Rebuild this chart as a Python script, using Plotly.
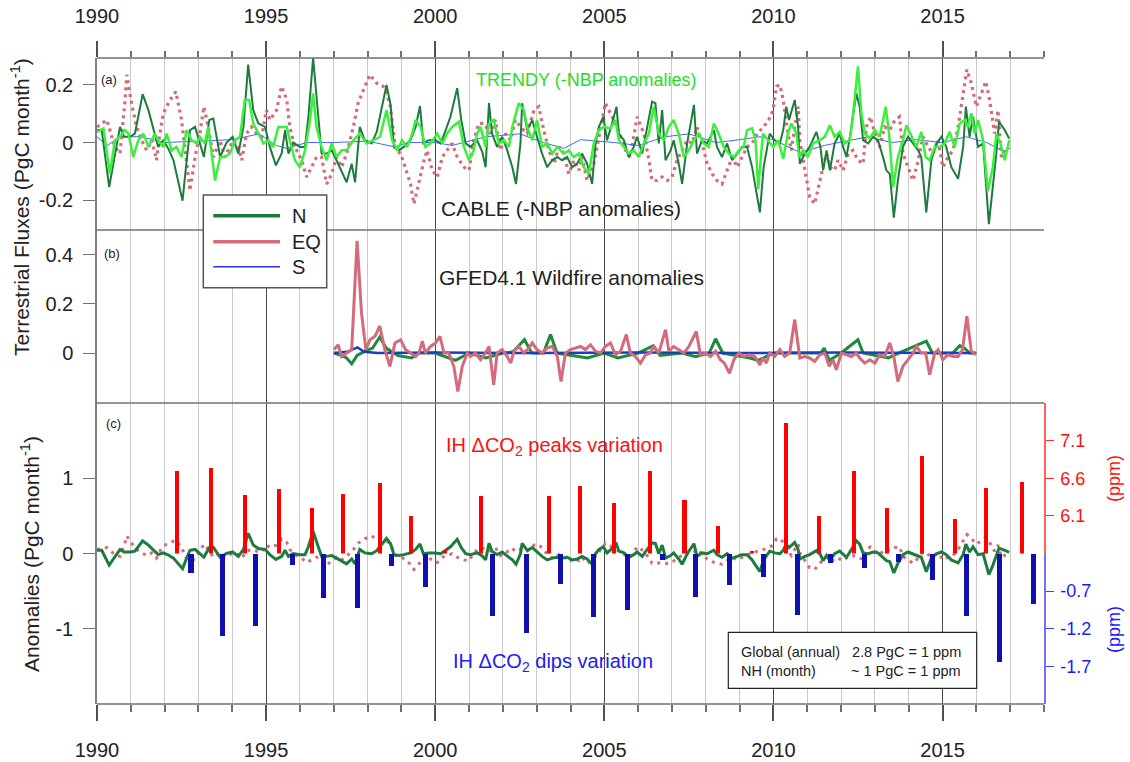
import plotly.graph_objects as go

# ---------------- DATA ----------------
# Panel (a): CABLE -NBP anomalies (PgC/month)
N_T = [1990.00,1990.14,1990.36,1990.53,1990.68,1990.80,1990.98,1991.12,1991.35,1991.52,1991.67,1991.81,1991.96,1992.11,1992.26,1992.53,1992.63,1992.75,1992.90,1993.04,1993.16,1993.32,1993.44,1993.64,1993.83,1994.01,1994.18,1994.33,1994.47,1994.62,1994.77,1994.97,1995.11,1995.29,1995.46,1995.56,1995.66,1995.80,1996.00,1996.15,1996.25,1996.39,1996.54,1996.64,1996.79,1996.94,1997.08,1997.18,1997.38,1997.53,1997.63,1997.77,1997.92,1998.12,1998.27,1998.56,1998.68,1998.78,1998.93,1999.07,1999.27,1999.42,1999.55,1999.65,1999.81,2000.01,2000.16,2000.31,2000.45,2000.65,2000.77,2000.90,2001.04,2001.24,2001.39,2001.49,2001.59,2001.68,2001.83,2001.98,2002.13,2002.28,2002.39,2002.52,2002.57,2002.72,2002.87,2003.01,2003.16,2003.31,2003.46,2003.61,2003.75,2003.90,2004.05,2004.20,2004.34,2004.49,2004.64,2004.74,2004.84,2004.97,2005.08,2005.20,2005.36,2005.43,2005.58,2005.72,2005.87,2005.97,2006.12,2006.27,2006.41,2006.51,2006.61,2006.71,2006.81,2006.96,2007.05,2007.20,2007.30,2007.45,2007.65,2007.74,2007.89,2008.04,2008.24,2008.33,2008.48,2008.63,2008.78,2008.93,2009.07,2009.22,2009.37,2009.47,2009.60,2009.71,2009.89,2010.04,2010.19,2010.29,2010.38,2010.46,2010.63,2010.73,2010.78,2010.93,2011.07,2011.27,2011.39,2011.47,2011.57,2011.67,2011.81,2011.96,2012.06,2012.16,2012.31,2012.45,2012.55,2012.65,2012.80,2012.95,2013.09,2013.24,2013.34,2013.44,2013.56,2013.68,2013.83,2013.98,2014.13,2014.28,2014.37,2014.52,2014.67,2014.82,2014.97,2015.11,2015.26,2015.46,2015.61,2015.69,2015.80,2015.90,2016.05,2016.20,2016.37,2016.49,2016.59,2016.67,2016.84,2016.97]
N_V = [0.043,0.043,-0.154,-0.050,0.054,0.020,0.020,0.031,0.167,0.112,0.043,-0.015,0.008,-0.021,-0.061,-0.201,-0.085,0.043,0.054,-0.003,-0.050,0.078,0.083,-0.050,0.000,0.020,-0.038,0.054,0.269,0.112,0.066,0.054,-0.015,-0.079,-0.038,0.043,-0.038,0.000,-0.015,-0.015,0.089,0.292,0.089,-0.038,-0.038,-0.027,-0.061,-0.085,-0.137,-0.073,-0.137,0.054,0.008,-0.003,0.037,0.199,0.130,-0.015,-0.027,-0.015,0.008,0.054,0.126,-0.003,0.008,0.008,-0.003,0.043,0.089,0.188,0.078,-0.003,-0.015,0.008,-0.032,-0.085,0.136,0.031,-0.015,0.020,-0.027,-0.085,-0.143,-0.003,0.136,0.043,0.078,0.020,-0.038,-0.085,-0.061,-0.050,-0.061,-0.050,-0.085,-0.073,-0.038,-0.073,-0.143,-0.003,0.054,0.089,0.008,0.054,0.124,0.031,0.008,-0.050,-0.015,0.020,-0.038,0.054,0.141,0.136,-0.003,0.112,-0.061,-0.027,0.008,-0.073,-0.143,-0.003,0.130,-0.038,0.008,-0.003,0.043,-0.015,-0.050,-0.003,-0.061,-0.038,-0.015,-0.015,-0.085,-0.154,-0.241,-0.085,0.031,0.008,-0.003,0.043,0.124,0.078,0.147,0.054,-0.073,-0.038,-0.015,0.037,-0.015,-0.096,-0.027,-0.096,-0.003,0.031,-0.015,-0.050,0.054,0.170,0.124,0.008,-0.003,0.020,0.008,-0.050,-0.096,-0.108,-0.259,-0.131,-0.015,0.020,-0.003,-0.027,-0.050,-0.241,-0.061,-0.003,0.020,-0.015,-0.085,-0.125,-0.015,0.124,0.020,0.089,-0.015,-0.003,-0.282,-0.154,-0.038,0.072,0.043,0.014]

EQ_T = [1990.00,1990.29,1990.53,1990.68,1990.83,1990.88,1991.02,1991.17,1991.32,1991.47,1991.62,1991.76,1991.86,1991.96,1992.16,1992.33,1992.50,1992.65,1992.75,1992.90,1993.04,1993.16,1993.29,1993.44,1993.64,1993.78,1994.03,1994.18,1994.28,1994.42,1994.57,1994.72,1994.87,1995.01,1995.11,1995.31,1995.46,1995.61,1995.70,1995.85,1996.05,1996.20,1996.34,1996.49,1996.64,1996.79,1996.94,1997.08,1997.23,1997.38,1997.58,1997.72,1997.92,1998.07,1998.27,1998.46,1998.66,1998.83,1998.98,1999.12,1999.27,1999.37,1999.52,1999.67,1999.76,1999.91,2000.06,2000.21,2000.35,2000.50,2000.65,2000.85,2001.00,2001.14,2001.29,2001.44,2001.64,2001.78,2001.93,2002.08,2002.23,2002.37,2002.52,2002.72,2002.92,2003.06,2003.21,2003.36,2003.51,2003.66,2003.80,2003.95,2004.10,2004.25,2004.34,2004.49,2004.69,2004.89,2005.03,2005.18,2005.33,2005.48,2005.63,2005.77,2005.97,2006.17,2006.32,2006.41,2006.56,2006.71,2006.86,2007.00,2007.15,2007.30,2007.45,2007.60,2007.74,2007.89,2008.04,2008.19,2008.33,2008.48,2008.63,2008.78,2008.93,2009.07,2009.22,2009.37,2009.52,2009.71,2009.86,2009.99,2010.09,2010.19,2010.29,2010.43,2010.53,2010.63,2010.73,2010.78,2010.88,2010.98,2011.07,2011.22,2011.32,2011.42,2011.57,2011.67,2011.81,2011.91,2012.06,2012.21,2012.35,2012.50,2012.65,2012.75,2012.87,2013.00,2013.14,2013.29,2013.44,2013.59,2013.73,2013.83,2013.98,2014.13,2014.28,2014.42,2014.57,2014.72,2014.87,2015.01,2015.16,2015.31,2015.46,2015.61,2015.72,2015.85,2016.00,2016.15,2016.28,2016.39,2016.54,2016.64,2016.74,2016.87]
EQ_V = [0.054,0.078,-0.015,-0.038,0.147,0.234,0.136,0.054,0.008,-0.027,0.008,-0.061,0.031,0.101,0.147,0.176,0.078,-0.061,-0.166,-0.050,0.031,0.124,0.054,-0.050,0.008,-0.050,0.008,-0.015,-0.061,0.031,0.054,0.031,0.020,0.112,0.078,0.112,0.194,0.147,0.054,-0.015,-0.061,-0.119,-0.085,-0.050,-0.050,-0.143,-0.108,-0.050,-0.085,-0.038,0.054,0.136,0.194,0.234,0.205,0.194,0.136,-0.027,-0.038,-0.085,-0.143,-0.212,-0.131,-0.061,-0.027,-0.096,-0.119,-0.050,-0.027,-0.003,-0.050,-0.085,-0.096,0.008,0.066,0.066,0.031,0.078,-0.027,0.031,0.008,0.078,0.054,0.031,0.112,0.124,0.043,-0.027,-0.073,-0.015,-0.038,-0.108,-0.061,-0.096,-0.050,-0.131,-0.073,0.054,0.136,0.101,0.066,0.020,-0.027,-0.050,0.089,0.031,-0.061,-0.131,-0.131,-0.119,-0.131,-0.119,-0.061,-0.027,0.008,-0.003,0.054,-0.003,-0.073,-0.108,-0.131,-0.143,-0.096,-0.050,-0.085,-0.050,-0.015,-0.003,0.031,0.054,0.078,0.112,0.194,0.199,0.147,0.031,-0.027,0.054,0.124,0.008,-0.061,-0.131,-0.189,-0.212,-0.154,-0.108,-0.038,-0.085,-0.096,-0.061,-0.096,-0.038,-0.027,-0.061,-0.073,0.054,0.089,0.031,-0.015,0.054,0.043,0.078,0.089,-0.038,-0.085,-0.131,-0.061,0.020,-0.015,-0.038,0.008,-0.085,-0.050,-0.027,0.054,0.159,0.252,0.205,0.124,0.170,0.211,0.147,0.031,0.112,-0.050,-0.015]

S_T = [1990.0,1990.3,1990.7,1991.3,1992.0,1993.0,1994.0,1994.8,1995.3,1995.6,1996.2,1997.0,1998.0,1998.8,1999.2,2000.0,2000.5,2001.5,2002.5,2003.2,2003.8,2004.3,2005.3,2006.0,2006.8,2007.5,2008.3,2009.0,2009.6,2010.0,2010.8,2011.5,2012.3,2012.8,2013.5,2014.2,2015.0,2015.7,2016.3,2016.8,2017.0]
S_V = [0.02,-0.01,0.02,0.02,0.0,0.005,0.01,0.03,-0.01,-0.02,0.0,0.0,0.005,-0.015,0.0,0.0,-0.01,0.02,0.03,0.0,-0.02,0.01,0.0,-0.01,0.02,0.03,0.0,0.01,0.02,0.01,-0.035,-0.01,0.01,0.02,0.0,0.01,0.0,0.02,0.0,-0.03,-0.02]

# TRENDY -NBP anomalies
TR_T = [1990.00,1990.19,1990.38,1990.53,1990.68,1990.83,1990.93,1991.07,1991.22,1991.37,1991.52,1991.71,1991.81,1991.96,1992.06,1992.21,1992.35,1992.50,1992.65,1992.80,1992.95,1993.04,1993.19,1993.29,1993.49,1993.64,1993.78,1993.93,1994.08,1994.23,1994.37,1994.50,1994.62,1994.77,1994.92,1995.06,1995.21,1995.36,1995.61,1995.70,1995.85,1996.00,1996.15,1996.30,1996.39,1996.49,1996.64,1996.79,1996.94,1997.08,1997.23,1997.38,1997.58,1997.77,1997.97,1998.17,1998.37,1998.56,1998.73,1998.88,1999.02,1999.17,1999.32,1999.42,1999.57,1999.71,1999.86,2000.06,2000.21,2000.35,2000.50,2000.70,2000.85,2001.00,2001.14,2001.24,2001.34,2001.49,2001.59,2001.73,2001.88,2002.03,2002.18,2002.28,2002.37,2002.47,2002.62,2002.72,2002.87,2003.01,2003.16,2003.31,2003.46,2003.61,2003.80,2003.95,2004.10,2004.25,2004.39,2004.54,2004.69,2004.84,2004.99,2005.18,2005.33,2005.43,2005.58,2005.72,2005.87,2006.02,2006.17,2006.32,2006.46,2006.61,2006.76,2006.91,2007.05,2007.20,2007.35,2007.50,2007.65,2007.79,2007.94,2008.09,2008.24,2008.38,2008.53,2008.68,2008.83,2008.98,2009.12,2009.22,2009.37,2009.47,2009.55,2009.69,2009.84,2009.99,2010.14,2010.29,2010.43,2010.53,2010.68,2010.76,2010.88,2011.02,2011.17,2011.37,2011.52,2011.67,2011.81,2011.96,2012.11,2012.26,2012.40,2012.50,2012.60,2012.70,2012.85,2013.00,2013.14,2013.32,2013.42,2013.54,2013.68,2013.83,2013.93,2014.08,2014.23,2014.37,2014.50,2014.62,2014.77,2014.92,2015.06,2015.21,2015.36,2015.51,2015.66,2015.75,2015.85,2015.95,2016.05,2016.20,2016.34,2016.49,2016.59,2016.71,2016.84,2016.97]
TR_V = [0.037,0.049,-0.108,0.008,0.020,0.043,0.031,-0.050,0.008,0.031,-0.015,0.031,0.008,-0.015,0.031,-0.027,-0.015,-0.050,0.043,0.008,-0.003,0.020,-0.003,0.054,-0.131,-0.050,-0.050,-0.038,0.008,0.020,0.147,0.147,0.066,0.031,-0.003,0.008,-0.015,0.054,0.054,0.008,-0.061,-0.085,-0.027,0.078,0.170,0.054,-0.015,-0.061,-0.003,-0.050,-0.027,-0.027,0.008,0.031,-0.003,0.008,0.020,0.112,0.008,-0.027,0.008,-0.015,0.031,0.078,0.054,-0.015,-0.003,0.031,-0.003,0.031,0.054,0.072,-0.015,-0.061,-0.027,0.031,0.054,-0.015,0.066,0.078,-0.003,0.008,-0.015,0.054,0.089,0.136,0.112,0.054,0.008,0.078,-0.015,-0.003,-0.038,-0.015,-0.038,-0.027,-0.050,-0.038,-0.085,-0.108,-0.003,0.043,0.054,0.049,0.078,0.008,-0.015,-0.038,-0.027,-0.050,-0.003,0.031,0.124,0.031,0.008,0.054,0.078,0.031,-0.050,-0.027,0.008,0.031,-0.003,-0.015,0.066,0.031,-0.015,-0.038,-0.050,-0.027,-0.015,0.043,0.049,0.008,-0.160,0.031,0.008,-0.015,0.008,-0.056,0.031,0.066,0.031,-0.050,-0.027,-0.050,-0.003,0.008,0.020,0.060,0.020,0.037,-0.003,0.008,0.147,0.263,0.101,0.031,0.014,0.043,0.020,0.124,0.031,-0.154,-0.050,0.008,0.060,0.020,-0.015,0.037,-0.050,-0.061,-0.015,-0.015,-0.003,0.037,-0.015,0.066,0.078,0.054,0.101,0.031,0.078,0.008,-0.166,-0.085,0.031,-0.003,-0.061,0.008]

# Panel (b): GFED4.1 wildfire anomalies
FEQ_T = [1997.01,1997.13,1997.23,1997.38,1997.53,1997.69,1997.82,1997.95,1998.07,1998.22,1998.36,1998.51,1998.66,1998.81,1998.98,1999.12,1999.27,1999.42,1999.52,1999.62,1999.71,1999.86,2000.01,2000.14,2000.26,2000.40,2000.55,2000.67,2000.80,2000.95,2001.04,2001.19,2001.34,2001.49,2001.59,2001.73,2001.83,2001.98,2002.13,2002.23,2002.33,2002.47,2002.62,2002.77,2002.87,2003.01,2003.16,2003.31,2003.46,2003.61,2003.72,2003.85,2004.00,2004.15,2004.30,2004.44,2004.59,2004.74,2004.89,2005.03,2005.18,2005.33,2005.48,2005.65,2005.77,2005.92,2006.07,2006.22,2006.36,2006.46,2006.61,2006.81,2006.91,2007.05,2007.20,2007.35,2007.50,2007.72,2007.84,2007.99,2008.14,2008.29,2008.43,2008.55,2008.70,2008.83,2008.98,2009.12,2009.30,2009.45,2009.60,2009.69,2009.79,2009.89,2010.04,2010.19,2010.33,2010.48,2010.63,2010.78,2010.93,2011.07,2011.22,2011.37,2011.52,2011.65,2011.76,2011.86,2012.01,2012.16,2012.31,2012.45,2012.55,2012.70,2012.85,2013.00,2013.14,2013.29,2013.44,2013.56,2013.68,2013.83,2013.98,2014.13,2014.23,2014.37,2014.50,2014.62,2014.77,2014.87,2015.01,2015.16,2015.31,2015.46,2015.59,2015.72,2015.85,2015.98]
FEQ_V = [0.014,0.034,-0.014,0.000,0.014,0.456,0.163,0.014,0.054,0.068,0.110,0.014,-0.054,0.041,0.054,0.014,0.000,-0.014,0.000,0.048,0.000,0.027,0.041,0.068,0.000,0.000,-0.054,-0.156,-0.054,0.000,-0.014,0.000,-0.027,0.000,0.027,-0.129,0.000,0.014,-0.014,-0.041,0.007,0.027,0.000,0.020,0.041,0.014,0.000,0.020,0.027,-0.014,-0.116,0.000,0.014,0.020,0.027,0.014,0.034,0.007,0.000,0.027,0.041,-0.007,0.007,0.075,0.000,-0.014,-0.041,-0.007,0.000,0.027,0.000,0.095,0.007,0.027,0.014,0.000,0.027,0.088,-0.007,0.000,-0.014,0.007,-0.027,-0.041,-0.082,-0.027,0.000,-0.014,-0.007,-0.014,-0.048,-0.020,-0.041,0.000,-0.014,0.014,-0.014,0.000,0.136,-0.020,-0.014,-0.020,-0.034,-0.007,0.000,-0.054,-0.027,-0.068,0.000,-0.007,-0.014,0.000,-0.020,-0.041,-0.027,-0.041,-0.007,-0.014,0.041,-0.014,-0.116,-0.054,-0.027,0.000,0.027,0.000,0.000,-0.088,0.000,0.014,-0.027,-0.007,-0.014,-0.014,0.014,0.150,0.007,-0.007]

FN_T = [1997.01,1997.23,1997.38,1997.53,1997.69,1997.95,1998.15,1998.36,1998.55,1998.68,1998.90,1999.30,1999.52,2000.00,2000.60,2001.00,2001.50,2002.00,2002.30,2002.64,2002.85,2003.20,2003.41,2003.60,2004.50,2005.00,2005.40,2006.00,2006.45,2006.65,2007.30,2007.70,2008.10,2008.29,2008.50,2009.30,2009.55,2010.00,2011.40,2011.50,2011.65,2012.00,2012.50,2012.65,2013.40,2013.70,2014.52,2014.70,2015.30,2015.51,2015.65,2015.80,2015.98]
FN_V = [0.000,-0.010,-0.020,-0.044,-0.010,0.010,0.020,0.065,0.020,0.010,-0.010,-0.020,0.000,0.000,-0.030,0.000,-0.020,0.000,0.005,0.055,0.000,0.000,0.075,0.000,-0.020,0.000,-0.020,0.000,0.030,-0.010,0.000,-0.015,0.000,0.058,0.000,-0.020,-0.030,0.000,0.000,0.020,-0.030,0.000,0.054,0.000,-0.020,0.000,0.048,0.000,0.000,0.030,0.020,0.000,0.000]

FS_T = [1997.0,1997.4,1997.7,1997.9,1998.3,2000.0,2003.0,2006.0,2009.0,2012.0,2015.0,2016.0]
FS_V = [0.0,0.005,0.023,0.005,0.0,0.002,0.0,0.002,0.0,0.002,0.0,0.0]

# Panel (c): IH dCO2 peaks / dips (ppm)
PEAK_T = [1992.36,1993.36,1994.37,1995.37,1996.37,1997.28,1998.37,1999.28,2000.28,2001.35,2003.36,2004.28,2005.29,2006.36,2007.37,2008.37,2009.37,2010.37,2011.36,2012.37,2013.37,2014.38,2015.37,2016.29,2017.36]
PEAK_PPM = [6.70,6.73,6.38,6.46,6.21,6.39,6.54,6.10,5.64,6.37,6.37,6.50,6.27,6.70,6.31,5.97,5.63,7.33,6.10,6.69,6.20,6.90,6.06,6.47,6.55]
DIP_T = [1992.78,1993.70,1994.69,1995.79,1996.69,1997.70,1998.71,1999.70,2001.70,2002.70,2003.70,2004.69,2005.68,2006.71,2007.69,2008.69,2009.70,2010.70,2011.70,2012.70,2013.70,2014.69,2015.70,2016.69,2017.70]
DIP_PPM = [-0.45,-1.285,-1.16,-0.35,-0.78,-0.92,-0.36,-0.64,-1.03,-1.25,-0.60,-1.04,-0.95,-0.28,-0.77,-0.61,-0.50,-1.01,-0.32,-0.38,-0.31,-0.545,-1.03,-1.63,-0.86]
PEAK_BASE = 5.6
DIP_BASE = -0.2

YEAR_TICKS = [1990, 1995, 2000, 2005, 2010, 2015]
RED_TICKS = [6.1, 6.6, 7.1]
BLUE_TICKS = [-0.7, -1.2, -1.7]

# ---------------- STYLE ----------------
FONT = "Liberation Sans, Arial, sans-serif"
TXT = "#222"
DKGREEN = "#1e7b3e"
LIME = "#3cef3c"
PINK = "#d46a7a"
BLUE = "#4466ff"

W, H = 1130, 762
ML, MR, MT, MB = 97, 86, 58, 58
PW, PH = W - ML - MR, H - MT - MB


def px(x):
    return (x - ML) / PW


def py(y):
    return (H - MB - y) / PH


D_C = py(403)
D_B = py(230)
D_MID = D_C / 2

fig = go.Figure()

# panel a
fig.add_trace(go.Scatter(x=EQ_T, y=EQ_V, mode="lines", line=dict(color=PINK, width=3.2, dash="3px,4px"), xaxis="x", yaxis="y3"))
fig.add_trace(go.Scatter(x=S_T, y=S_V, mode="lines", line=dict(color=BLUE, width=1), xaxis="x", yaxis="y3"))
fig.add_trace(go.Scatter(x=N_T, y=N_V, mode="lines", line=dict(color=DKGREEN, width=2), xaxis="x", yaxis="y3"))
fig.add_trace(go.Scatter(x=TR_T, y=TR_V, mode="lines", line=dict(color=LIME, width=2.5), xaxis="x", yaxis="y3"))
# panel b
fig.add_trace(go.Scatter(x=FN_T, y=FN_V, mode="lines", line=dict(color="#1e8a3e", width=3), xaxis="x", yaxis="y2"))
fig.add_trace(go.Scatter(x=FS_T, y=FS_V, mode="lines", line=dict(color="#1a3cc8", width=2.5), xaxis="x", yaxis="y2"))
fig.add_trace(go.Scatter(x=FEQ_T, y=FEQ_V, mode="lines", line=dict(color=PINK, width=3), xaxis="x", yaxis="y2"))
# panel c bars
fig.add_trace(go.Bar(x=PEAK_T, y=[v - PEAK_BASE for v in PEAK_PPM], base=PEAK_BASE, width=0.12,
                     marker=dict(color="#ff0000", line=dict(width=0)), xaxis="x3", yaxis="y4"))
fig.add_trace(go.Bar(x=DIP_T, y=[v - DIP_BASE for v in DIP_PPM], base=DIP_BASE, width=0.15,
                     marker=dict(color="#1010b0", line=dict(width=0)), xaxis="x3", yaxis="y5"))
# panel c lines
fig.add_trace(go.Scatter(x=EQ_T, y=EQ_V, mode="lines", line=dict(color=PINK, width=3, dash="3px,5px"), xaxis="x", yaxis="y"))
fig.add_trace(go.Scatter(x=N_T, y=N_V, mode="lines", line=dict(color=DKGREEN, width=3), xaxis="x", yaxis="y"))
# dummy for top axis
fig.add_trace(go.Scatter(x=[1990], y=[None], mode="lines", xaxis="x2", yaxis="y3"))

xcommon = dict(range=[1990, 2018], tickmode="array", tickvals=YEAR_TICKS, automargin=False,
               ticks="outside", ticklen=16, tickwidth=1.5, tickcolor="#505050",
               tickfont=dict(size=20, family=FONT, color=TXT), showline=False, zeroline=False)
ycommon = dict(anchor="x", ticks="outside", ticklen=12, tickcolor="#707070", ticklabelstandoff=6, automargin=False,
               showline=True, linecolor="#808080", linewidth=1.5, showgrid=False, zeroline=False,
               tickfont=dict(size=20, family=FONT, color=TXT))

fig.update_layout(
    width=W, height=H, margin=dict(l=ML, r=MR, t=MT, b=MB, autoexpand=False),
    paper_bgcolor="white", plot_bgcolor="rgba(0,0,0,0)", showlegend=False,
    font=dict(family=FONT, color=TXT), bargap=0,
    xaxis=dict(domain=[0, 1], anchor="y", showgrid=True, gridcolor="#4a4a4a", gridwidth=1, ticklabelstandoff=12,
               minor=dict(dtick=1, tick0=1990, ticks="outside", ticklen=7, tickcolor="#707070",
                          showgrid=True, gridcolor="#cacaca", gridwidth=1),
               **xcommon),
    xaxis2=dict(overlaying="x", anchor="y3", side="top", showgrid=False, ticklabelstandoff=10,
                minor=dict(dtick=1, tick0=1990, ticks="outside", ticklen=6, tickcolor="#707070", showgrid=False),
                **xcommon),
    xaxis3=dict(domain=[0, 1], anchor="y", range=[1990, 2018], visible=False, showgrid=False, automargin=False),
    yaxis=dict(domain=[0, D_C], range=[-2, 2], tickvals=[-1, 0, 1], ticktext=["-1", "0", "1"], **ycommon),
    yaxis2=dict(domain=[D_C, D_B], range=[-0.203, 0.5], tickvals=[0, 0.2, 0.4], ticktext=["0", "0.2", "0.4"], **ycommon),
    yaxis3=dict(domain=[D_B, 1], range=[-0.302, 0.292], tickvals=[-0.2, 0, 0.2], ticktext=["-0.2", "0", "0.2"], **ycommon),
    yaxis4=dict(domain=[D_MID, D_C], range=[PEAK_BASE, PEAK_BASE + 2], anchor="x3", side="right", automargin=False,
                tickvals=RED_TICKS, ticktext=[str(v) for v in RED_TICKS], ticks="outside", ticklen=8,
                tickcolor="#ff3030", ticklabelstandoff=3, showline=True, linecolor="#ff6060", linewidth=1.5,
                showgrid=False, zeroline=False, tickfont=dict(size=18, family=FONT, color="#ff1010")),
    yaxis5=dict(domain=[0, D_MID], range=[DIP_BASE - 2, DIP_BASE], anchor="x3", side="right", automargin=False,
                tickvals=BLUE_TICKS, ticktext=[str(v) for v in BLUE_TICKS], ticks="outside", ticklen=8,
                tickcolor="#4040ff", ticklabelstandoff=3, showline=True, linecolor="#7070ff", linewidth=1.5,
                showgrid=False, zeroline=False, tickfont=dict(size=18, family=FONT, color="#1a1aff")),
)

shapes = []
for yb in [1, D_B, D_C, 0]:
    shapes.append(dict(type="line", xref="paper", yref="paper", x0=0, x1=1, y0=yb, y1=yb,
                       line=dict(color="#707070", width=1.5), layer="above"))
# legend box
shapes.append(dict(type="rect", xref="paper", yref="paper", x0=px(203.3), x1=px(326.7), y0=py(287.7), y1=py(195),
                   fillcolor="white", line=dict(color="#555", width=1.5), layer="above"))
for yy, col, wd in [(215.7, DKGREEN, 3.5), (241.7, PINK, 3.5), (266.7, "#2233ee", 1.5)]:
    shapes.append(dict(type="line", xref="paper", yref="paper", x0=px(213.3), x1=px(280), y0=py(yy), y1=py(yy),
                       line=dict(color=col, width=wd), layer="above"))
# conversion box
shapes.append(dict(type="rect", xref="paper", yref="paper", x0=px(728.3), x1=px(976.7), y0=py(688.3), y1=py(632.3),
                   fillcolor="white", line=dict(color="#222", width=1.2), layer="above"))
fig.update_layout(shapes=shapes)

ann = []


def add(text, x, y, size, color=TXT, xanchor="center", angle=0):
    ann.append(dict(text=text, xref="paper", yref="paper", x=px(x), y=py(y), xanchor=xanchor, yanchor="middle",
                    showarrow=False, textangle=angle, font=dict(size=size, family=FONT, color=color)))


add("(a)", 109, 80, 13)
add("(b)", 112, 254, 13)
add("(c)", 113, 423, 13)
add("TRENDY (-NBP anomalies)", 586, 80.5, 18, "#22e022")
add("CABLE (-NBP anomalies)", 561, 208, 21)
add("GFED4.1 Wildfire anomalies", 571.7, 277.5, 21)
add("IH \u0394CO<sub>2</sub> peaks variation", 554, 446, 20, "#ff1010")
add("IH \u0394CO<sub>2</sub> dips variation", 553, 662, 20, "#2020ee")
add("N", 290, 215.7, 20, xanchor="left")
add("EQ", 290, 241.7, 20, xanchor="left")
add("S", 290, 266.7, 20, xanchor="left")
add("Global (annual)", 739, 652.3, 14.5, xanchor="left")
add("NH (month)", 739, 670.7, 14.5, xanchor="left")
add("2.8 PgC = 1 ppm", 963, 652.3, 14.5, xanchor="right")
add("~ 1 PgC = 1 ppm", 963, 670.7, 14.5, xanchor="right")
add("Terrestrial Fluxes (PgC month<sup>-1</sup>)", 20, 207, 21, angle=-90)
add("Anomalies (PgC month<sup>-1</sup>)", 30, 554, 21, angle=-90)
add("(ppm)", 1114, 479, 18, "#ff1010", angle=-90)
add("(ppm)", 1114, 630, 18, "#1a1aff", angle=-90)
fig.update_layout(annotations=ann)

fig.write_html("out.html")
